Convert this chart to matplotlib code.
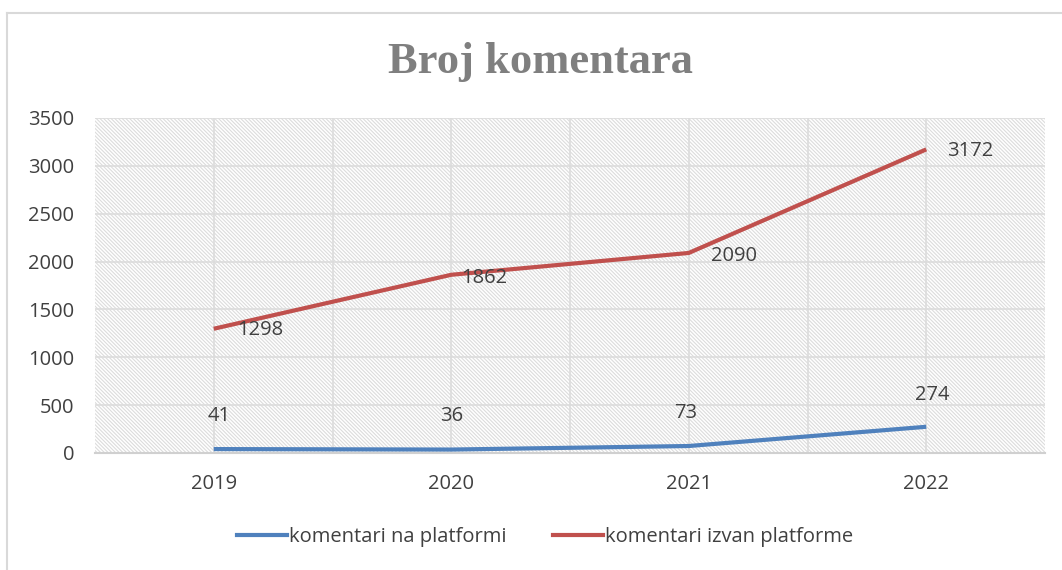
import matplotlib.pyplot as plt
import matplotlib.patches as patches
import matplotlib.lines as mlines

years = [2019, 2020, 2021, 2022]
na_platformi = [41, 36, 73, 274]
izvan_platforme = [1298, 1862, 2090, 3172]
yticks = [0, 500, 1000, 1500, 2000, 2500, 3000, 3500]

blue = '#4F81BD'
red = '#C0504D'
txt = '#404040'

plt.rcParams['font.family'] = ['Open Sans', 'DejaVu Sans']
plt.rcParams['hatch.linewidth'] = 0.8
plt.rcParams['hatch.color'] = '#DCDCDC'

fig = plt.figure(figsize=(10.62, 5.7), dpi=100)
ax = fig.add_axes([95/1062, 1-453/570, 950/1062, 335/570])

# hatched background of plot area
bg = patches.Rectangle((0, 0), 1, 1, transform=ax.transAxes, facecolor='white',
                       edgecolor='#DCDCDC', hatch='\\' * 9, linewidth=0, zorder=0)
ax.add_patch(bg)

ax.set_xlim(2018.5, 2022.5)
ax.set_ylim(0, 3500)
ax.set_xticks(years)
ax.set_xticklabels([str(y) for y in years])
ax.set_yticks(yticks)

# grid every half category and every 500
for xv in [2018.5 + 0.5*i for i in range(1, 8)]:
    ax.axvline(xv, color='#DCDCDC', lw=1.2, zorder=1)
for yv in yticks[1:]:
    ax.axhline(yv, color='#DCDCDC', lw=1.2, zorder=1)

for s in ['top', 'right', 'left']:
    ax.spines[s].set_visible(False)
ax.spines['bottom'].set_color('#D0D0D0')
ax.spines['bottom'].set_linewidth(1.5)
ax.tick_params(length=0, labelsize=14.5, colors=txt)
ax.tick_params(axis='y', pad=15)
ax.tick_params(axis='x', pad=15)

ax.plot(years, na_platformi, color=blue, lw=3, solid_capstyle='butt', zorder=3)
ax.plot(years, izvan_platforme, color=red, lw=3, solid_capstyle='butt', zorder=3)

blue_off = [(4, 24), (0, 24), (-2, 24), (4, 23)]
red_off = [(17, -1), (7, -2), (16, -2), (15, -1)]
for x, y, o in zip(years, na_platformi, blue_off):
    ax.annotate(str(y), (x, y), xytext=o, textcoords='offset points',
                ha='center', va='center', fontsize=14.5, color=txt, zorder=4)
for x, y, o in zip(years, izvan_platforme, red_off):
    ax.annotate(str(y), (x, y), xytext=o, textcoords='offset points',
                ha='left', va='center', fontsize=14.5, color=txt, zorder=4)

fig.text(540/1062, 1-62/570, 'Broj komentara', ha='center', va='center',
         fontsize=32, fontweight='bold', color='#7F7F7F', family='Liberation Serif')

h1 = mlines.Line2D([], [], color=blue, lw=3)
h2 = mlines.Line2D([], [], color=red, lw=3)
fig.legend([h1, h2], ['komentari na platformi', 'komentari izvan platforme'],
           loc='center', bbox_to_anchor=(545/1062, 1-537/570), ncol=2, frameon=False,
           fontsize=14.5, labelcolor=txt, handlelength=2.5, handletextpad=0.1,
           columnspacing=2.3)

# outer chart frame
fig.add_artist(mlines.Line2D([7/1062, 7/1062], [0, 1-13/570], color='#D9D9D9', lw=1.5))
fig.add_artist(mlines.Line2D([7/1062, 1], [1-13/570, 1-13/570], color='#D9D9D9', lw=1.5))

fig.savefig('out.png', dpi=100)
